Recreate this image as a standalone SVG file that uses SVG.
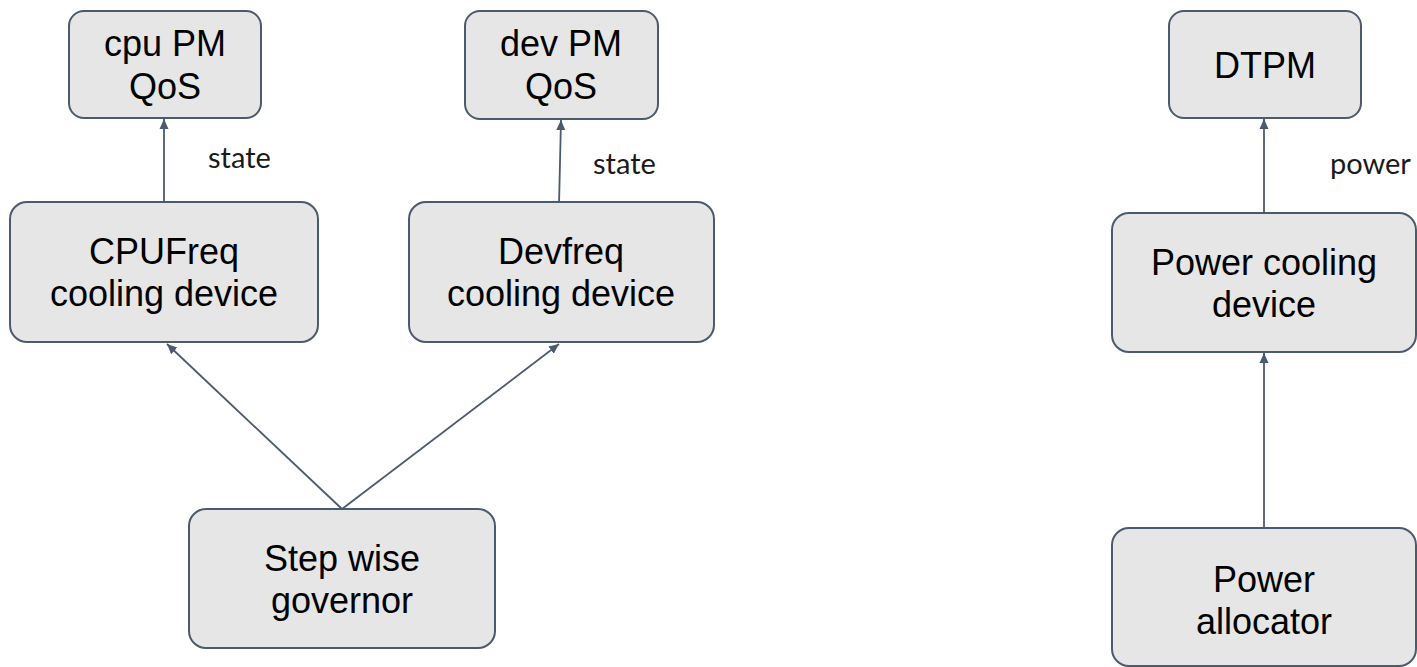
<svg xmlns="http://www.w3.org/2000/svg" width="1417" height="667" viewBox="0 0 1417 667">
  <style>
    .box { fill: #e6e6e6; stroke: #4c5a70; stroke-width: 2; }
    .lbl { font-family: "Liberation Sans", Arial, sans-serif; font-size: 36px; fill: #000; text-anchor: middle; }
    .edge { stroke: #4c5a70; stroke-width: 1.8; fill: none; marker-end: url(#arrow); }
    .elbl { font-family: Lato, "Open Sans", sans-serif; font-size: 29px; fill: #1a1a1a; }
  </style>
  <defs>
    <marker id="arrow" markerUnits="userSpaceOnUse" markerWidth="10" markerHeight="12" refX="10" refY="5" orient="auto" viewBox="0 0 10 10">
      <path d="M0,0.5 L10,5 L0,9.5 Z" fill="#4c5a70"/>
    </marker>
  </defs>
  <rect width="1417" height="667" fill="#ffffff"/>

  <g id="connectors">
    <line class="edge" x1="164" y1="202" x2="164" y2="119"/>
    <line class="edge" x1="559" y1="205" x2="561" y2="120"/>
    <line class="edge" x1="342" y1="509" x2="167" y2="344"/>
    <line class="edge" x1="342" y1="509" x2="559" y2="344"/>
    <line class="edge" x1="1264" y1="213" x2="1264" y2="119"/>
    <line class="edge" x1="1264" y1="528" x2="1264" y2="353"/>
    <text class="elbl" x="208" y="168">state</text>
    <text class="elbl" x="593" y="174">state</text>
    <text class="elbl" x="1330" y="174">power</text>
  </g>

  <g id="cpu-pm-qos">
    <rect class="box" x="69" y="11" width="192" height="107" rx="15"/>
    <text class="lbl" x="165" y="56">cpu PM</text>
    <text class="lbl" x="165" y="99">QoS</text>
  </g>
  <g id="dev-pm-qos">
    <rect class="box" x="465" y="11" width="193" height="108" rx="15"/>
    <text class="lbl" x="561" y="56">dev PM</text>
    <text class="lbl" x="561" y="99">QoS</text>
  </g>
  <g id="cpufreq-cooling">
    <rect class="box" x="10" y="202" width="308" height="140" rx="17"/>
    <text class="lbl" x="164" y="264">CPUFreq</text>
    <text class="lbl" x="164" y="306">cooling device</text>
  </g>
  <g id="devfreq-cooling">
    <rect class="box" x="409" y="202" width="305" height="140" rx="17"/>
    <text class="lbl" x="561" y="264">Devfreq</text>
    <text class="lbl" x="561" y="306">cooling device</text>
  </g>
  <g id="step-wise-governor">
    <rect class="box" x="189" y="509" width="306" height="139" rx="17"/>
    <text class="lbl" x="342" y="571">Step wise</text>
    <text class="lbl" x="342" y="613">governor</text>
  </g>
  <g id="dtpm">
    <rect class="box" x="1169" y="11" width="192" height="107" rx="15"/>
    <text class="lbl" x="1265" y="78">DTPM</text>
  </g>
  <g id="power-cooling">
    <rect class="box" x="1112" y="213" width="304" height="139" rx="17"/>
    <text class="lbl" x="1264" y="275">Power cooling</text>
    <text class="lbl" x="1264" y="317">device</text>
  </g>
  <g id="power-allocator">
    <rect class="box" x="1112" y="528" width="304" height="138" rx="17"/>
    <text class="lbl" x="1264" y="592">Power</text>
    <text class="lbl" x="1264" y="634">allocator</text>
  </g>
</svg>
